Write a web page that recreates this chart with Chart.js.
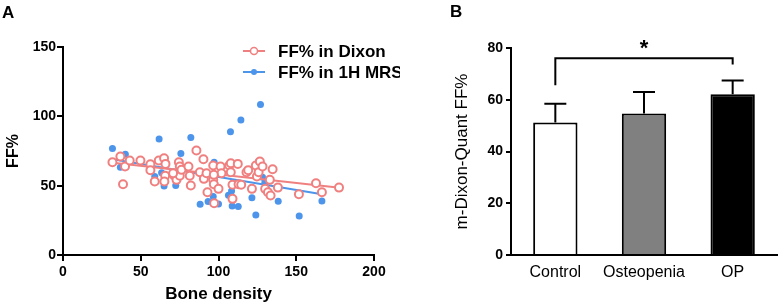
<!DOCTYPE html>
<html>
<head>
<meta charset="utf-8">
<script src="https://cdn.jsdelivr.net/npm/chart.js@4.4.0/dist/chart.umd.min.js"></script>
<style>
  body { margin: 0; background: #fff; width: 778px; height: 305px; overflow: hidden; position: relative;
         font-family: Arial, "Liberation Sans", sans-serif; }
  .panel-label { position: absolute; font-weight: bold; font-size: 17px; line-height: 1; color: #000; }
  #boxA { position: absolute; left: 0; top: 0; width: 400px; height: 305px; }
  #boxB { position: absolute; left: 400px; top: 0; width: 378px; height: 305px; }
</style>
</head>
<body>
<div id="boxA"><canvas id="chartA" width="400" height="305"></canvas></div>
<div id="boxB"><canvas id="chartB" width="378" height="305"></canvas></div>
<div class="panel-label" style="left:2px; top:4px;">A</div>
<div class="panel-label" style="left:450px; top:3px;">B</div>
<script>
// ---- Panel A data: bone density vs FF% ----
var dixonDensity = [31.8, 36.9, 38.6, 39.9, 42.9, 49.8, 56.2, 56.2, 59.0, 61.6,
                    65.0, 65.9, 65.7, 65.2, 71.5, 73.0, 74.5, 75.1, 75.1, 76.2,
                    80.7, 81.5, 82.2, 85.8, 88.0, 90.3, 90.6, 92.3, 92.9, 96.6,
                    96.6, 97.0, 97.2, 100.0, 101.3, 101.9, 106.9, 107.9, 107.9, 109.0,
                    109.0, 112.4, 112.9, 114.6, 118.0, 119.1, 121.5, 124.0, 124.7, 125.8,
                    126.6, 128.3, 130.0, 131.8, 133.0, 133.5, 134.8, 138.2, 151.7, 162.7,
                    166.5, 177.5, 70.8, 97.0];
var dixonFF      = [66.9, 71.0, 51.0, 63.8, 68.1, 68.1, 65.5, 61.2, 53.0, 68.1,
                    69.8, 65.7, 57.1, 53.0, 57.3, 54.2, 66.9, 63.8, 57.1, 61.4,
                    63.8, 57.1, 50.1, 75.4, 59.7, 69.1, 54.9, 59.0, 45.3, 64.5,
                    54.2, 51.0, 37.3, 47.7, 63.8, 59.0, 64.5, 66.2, 59.7, 40.5,
                    50.6, 65.7, 51.0, 50.6, 59.7, 61.2, 47.7, 64.5, 56.6, 59.7,
                    67.4, 63.8, 47.7, 45.3, 54.2, 42.9, 61.9, 48.6, 43.8, 51.8,
                    45.3, 48.6, 59.0, 57.8];

var mrsDensity = [31.8, 36.9, 40.1, 59.0, 61.8, 63.4, 65.0, 72.5, 75.8, 82.2,
                  88.2, 93.3, 96.6, 97.2, 100.0, 106.4, 107.7, 108.4, 108.8, 112.7,
                  114.4, 121.5, 124.0, 125.6, 127.0, 128.3, 129.8, 138.4, 151.9, 166.5];
var mrsFF      = [76.8, 63.3, 72.7, 56.6, 83.6, 59.4, 49.8, 50.1, 73.2, 84.8,
                  36.6, 38.5, 42.1, 66.9, 36.8, 43.1, 88.9, 46.2, 35.4, 34.9,
                  97.3, 41.2, 28.9, 67.2, 108.6, 56.1, 52.3, 38.8, 28.2, 39.0];

// regression line end points
var dixonFitX = [32, 178];
var dixonFitY = [66.5, 48.5];
var mrsFitX = [32, 166.5];
var mrsFitY = [69.0, 43.8];

var seriesLabels = ['FF% in Dixon', 'FF% in 1H MRS'];
var xTicksA = [0, 50, 100, 150, 200];
var yTicksA = [0, 50, 100, 150];

// ---- Panel B data: m-Dixon-Quant FF% by group ----
var groups = ['Control', 'Osteopenia', 'OP'];
var groupMeans = [51.2, 54.7, 62.1];
var groupSD = [7.3, 8.3, 5.3];
var yTicksB = [0, 20, 40, 60, 80];
// significance bracket between Control and OP
var sigPair = [0, 2];
var sigLevel = 76;
var sigLegEnds = [65.6, 73.6];
var sigText = '*';

var RED = '#f08080';
var BLUE = '#4d94eb';
var FONT = 'Arial, "Liberation Sans", sans-serif';

Chart.defaults.font.family = FONT;
Chart.defaults.color = '#000';

function toPoints(xs, ys) {
  return xs.map(function(x, i) { return { x: x, y: ys[i] }; });
}

// ---- legend for panel A: line with marker, then label ----
var legendA = {
  id: 'legendA',
  afterDraw: function(chart) {
    var ctx = chart.ctx;
    var rows = [
      { y: 51, color: RED, open: true, text: seriesLabels[0] },
      { y: 72, color: BLUE, open: false, text: seriesLabels[1] }
    ];
    ctx.save();
    rows.forEach(function(r) {
      ctx.strokeStyle = r.color;
      ctx.lineWidth = 2;
      ctx.beginPath();
      ctx.moveTo(243, r.y);
      ctx.lineTo(265, r.y);
      ctx.stroke();
      ctx.beginPath();
      if (r.open) {
        ctx.arc(254, r.y, 3.5, 0, Math.PI * 2);
        ctx.fillStyle = '#fff';
        ctx.fill();
        ctx.lineWidth = 1.5;
        ctx.stroke();
      } else {
        ctx.arc(254, r.y, 3, 0, Math.PI * 2);
        ctx.fillStyle = r.color;
        ctx.fill();
      }
      ctx.fillStyle = '#000';
      ctx.font = 'bold 17px ' + FONT;
      ctx.textBaseline = 'middle';
      ctx.textAlign = 'left';
      ctx.fillText(r.text, 278, r.y + 1);
    });
    ctx.restore();
  }
};

function axisStyle(tickLen) {
  return {
    grid: { display: true, drawOnChartArea: false, drawTicks: true, tickLength: tickLen, color: '#000', lineWidth: 2 },
    border: { display: true, color: '#000', width: 2 }
  };
}

new Chart(document.getElementById('chartA'), {
  type: 'scatter',
  data: {
    datasets: [
      { label: seriesLabels[0], data: toPoints(dixonDensity, dixonFF), pointRadius: 4, pointBorderWidth: 2,
        borderColor: RED, backgroundColor: '#fff', order: 0 },
      { data: toPoints(dixonFitX, dixonFitY), showLine: true, borderColor: RED, borderWidth: 2,
        pointRadius: 0, order: 1 },
      { data: toPoints(mrsFitX, mrsFitY), showLine: true, borderColor: BLUE, borderWidth: 2,
        pointRadius: 0, order: 2 },
      { label: seriesLabels[1], data: toPoints(mrsDensity, mrsFF), pointRadius: 3.5, pointBorderWidth: 0,
        borderColor: BLUE, backgroundColor: BLUE, order: 3 }
    ]
  },
  options: {
    responsive: false,
    animation: false,
    devicePixelRatio: 1,
    layout: { padding: { left: 0, right: 26, top: 47, bottom: 0 } },
    plugins: { legend: { display: false }, tooltip: { enabled: false } },
    scales: {
      x: Object.assign(axisStyle(6), {
        type: 'linear', min: 0, max: 200,
        afterBuildTicks: function(s) { s.ticks = xTicksA.map(function(v) { return { value: v }; }); },
        ticks: { font: { size: 14, weight: 'bold' }, padding: 3, color: '#000' },
        title: { display: true, text: 'Bone density', font: { size: 17, weight: 'bold' }, padding: { top: 0, bottom: 0 }, color: '#000' },
        afterFit: function(s) { s.height = 50; }
      }),
      y: Object.assign(axisStyle(6), {
        type: 'linear', min: 0, max: 150,
        afterBuildTicks: function(s) { s.ticks = yTicksA.map(function(v) { return { value: v }; }); },
        ticks: { font: { size: 14, weight: 'bold' }, padding: 1, color: '#000' },
        title: { display: true, text: 'FF%', font: { size: 16, weight: 'bold' }, padding: { top: 4, bottom: 0 }, color: '#000' },
        afterFit: function(s) { s.width = 63; }
      })
    }
  },
  plugins: [legendA]
});

// ---- error bars and significance bracket for panel B ----
var barExtras = {
  id: 'barExtras',
  afterDatasetsDraw: function(chart) {
    var ctx = chart.ctx;
    var meta = chart.getDatasetMeta(0);
    var ys = chart.scales.y;
    ctx.save();
    ctx.strokeStyle = '#000';
    ctx.lineWidth = 2;
    meta.data.forEach(function(bar, i) {
      var top = ys.getPixelForValue(groupMeans[i]);
      var end = ys.getPixelForValue(groupMeans[i] + groupSD[i]);
      ctx.beginPath();
      ctx.moveTo(bar.x, top);
      ctx.lineTo(bar.x, end);
      ctx.moveTo(bar.x - 11, end);
      ctx.lineTo(bar.x + 11, end);
      ctx.stroke();
    });
    var xa = meta.data[sigPair[0]].x;
    var xb = meta.data[sigPair[1]].x;
    var yl = ys.getPixelForValue(sigLevel);
    ctx.beginPath();
    ctx.moveTo(xa, ys.getPixelForValue(sigLegEnds[0]));
    ctx.lineTo(xa, yl);
    ctx.lineTo(xb, yl);
    ctx.lineTo(xb, ys.getPixelForValue(sigLegEnds[1]));
    ctx.stroke();
    ctx.fillStyle = '#000';
    ctx.font = 'bold 22px ' + FONT;
    ctx.textAlign = 'center';
    ctx.textBaseline = 'middle';
    ctx.fillText(sigText, (xa + xb) / 2, yl - 9);
    ctx.restore();
  }
};

new Chart(document.getElementById('chartB'), {
  type: 'bar',
  data: {
    labels: groups,
    datasets: [{
      data: groupMeans,
      backgroundColor: ['#ffffff', '#808080', '#000000'],
      borderColor: '#000',
      borderWidth: 2,
      borderSkipped: 'bottom',
      categoryPercentage: 1,
      barPercentage: 0.5
    }]
  },
  options: {
    responsive: false,
    animation: false,
    devicePixelRatio: 1,
    layout: { padding: { left: 48, right: 1, top: 48, bottom: 0 } },
    plugins: { legend: { display: false }, tooltip: { enabled: false } },
    scales: {
      x: {
        grid: { display: false, drawTicks: false },
        border: { display: true, color: '#000', width: 2 },
        ticks: { font: { size: 16 }, padding: 8, color: '#000' },
        afterFit: function(s) { s.height = 50; }
      },
      y: Object.assign(axisStyle(5), {
        min: 0, max: 80,
        afterBuildTicks: function(s) { s.ticks = yTicksB.map(function(v) { return { value: v }; }); },
        ticks: { font: { size: 14, weight: 'bold' }, padding: 3, color: '#000' },
        title: { display: true, text: 'm-Dixon-Quant FF%', font: { size: 17 }, padding: { top: 4, bottom: 0 }, color: '#000' },
        afterFit: function(s) { s.width = 63; }
      })
    }
  },
  plugins: [barExtras]
});
</script>
</body>
</html>
